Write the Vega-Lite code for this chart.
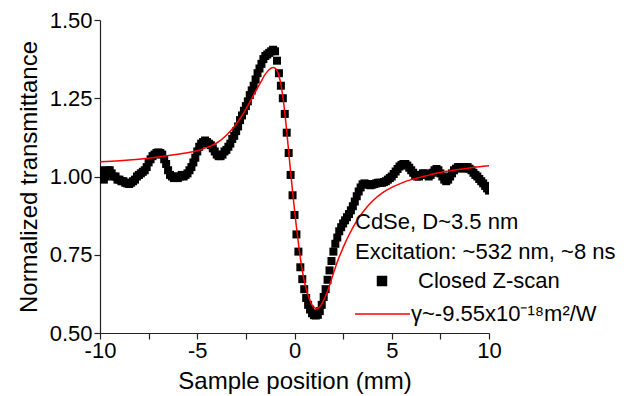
{
  "$schema": "https://vega.github.io/schema/vega-lite/v6.json",
  "width": 389,
  "height": 313,
  "autosize": {"type": "none"},
  "padding": {"left": 100, "top": 20, "right": 153, "bottom": 63},
  "background": "white",
  "config": {
    "view": {"stroke": null},
    "font": "Liberation Sans",
    "axis": {"grid": false, "domain": true, "ticks": true, "domainColor": "#222", "domainWidth": 1.2, "tickColor": "#222", "tickWidth": 1.2, "tickSize": 6, "labelColor": "black", "titleColor": "black", "labelFont": "Liberation Sans", "titleFont": "Liberation Sans", "labelFontSize": 22, "titleFontSize": 24, "titleFontWeight": "normal", "labelFlush": false, "labelOverlap": false}
  },
  "datasets": {
    "scan": [
      {"x": -10.0, "t": 1.02}, {"x": -9.9, "t": 1.01}, {"x": -9.8, "t": 0.99}, {"x": -9.7, "t": 1.0}, {"x": -9.6, "t": 1.02},
      {"x": -9.5, "t": 1.02}, {"x": -9.4, "t": 1.01}, {"x": -9.3, "t": 1.0}, {"x": -9.2, "t": 1.0}, {"x": -9.1, "t": 0.99},
      {"x": -9.0, "t": 0.99}, {"x": -8.9, "t": 0.985}, {"x": -8.8, "t": 0.985}, {"x": -8.7, "t": 0.98}, {"x": -8.6, "t": 0.978},
      {"x": -8.5, "t": 0.976}, {"x": -8.4, "t": 0.98}, {"x": -8.3, "t": 0.985}, {"x": -8.2, "t": 0.99}, {"x": -8.1, "t": 1.0},
      {"x": -8.0, "t": 1.005}, {"x": -7.9, "t": 1.01}, {"x": -7.8, "t": 1.015}, {"x": -7.7, "t": 1.02}, {"x": -7.6, "t": 1.03},
      {"x": -7.5, "t": 1.045}, {"x": -7.4, "t": 1.055}, {"x": -7.3, "t": 1.065}, {"x": -7.2, "t": 1.07}, {"x": -7.1, "t": 1.075},
      {"x": -7.0, "t": 1.077}, {"x": -6.9, "t": 1.075}, {"x": -6.8, "t": 1.07}, {"x": -6.7, "t": 1.055}, {"x": -6.6, "t": 1.04},
      {"x": -6.5, "t": 1.02}, {"x": -6.4, "t": 1.005}, {"x": -6.3, "t": 1.0}, {"x": -6.2, "t": 0.995}, {"x": -6.1, "t": 1.0},
      {"x": -6.0, "t": 0.995}, {"x": -5.9, "t": 1.0}, {"x": -5.8, "t": 1.005}, {"x": -5.7, "t": 1.0}, {"x": -5.6, "t": 1.005},
      {"x": -5.5, "t": 1.01}, {"x": -5.4, "t": 1.02}, {"x": -5.3, "t": 1.03}, {"x": -5.2, "t": 1.045}, {"x": -5.1, "t": 1.06},
      {"x": -5.0, "t": 1.08}, {"x": -4.9, "t": 1.095}, {"x": -4.8, "t": 1.105}, {"x": -4.7, "t": 1.11}, {"x": -4.6, "t": 1.115},
      {"x": -4.5, "t": 1.11}, {"x": -4.4, "t": 1.105}, {"x": -4.3, "t": 1.1}, {"x": -4.2, "t": 1.09}, {"x": -4.1, "t": 1.08},
      {"x": -4.0, "t": 1.07}, {"x": -3.9, "t": 1.065}, {"x": -3.8, "t": 1.065}, {"x": -3.7, "t": 1.07}, {"x": -3.6, "t": 1.08},
      {"x": -3.5, "t": 1.085}, {"x": -3.4, "t": 1.095}, {"x": -3.3, "t": 1.105}, {"x": -3.2, "t": 1.12}, {"x": -3.1, "t": 1.13},
      {"x": -3.0, "t": 1.145}, {"x": -2.9, "t": 1.16}, {"x": -2.8, "t": 1.18}, {"x": -2.7, "t": 1.195}, {"x": -2.6, "t": 1.21},
      {"x": -2.5, "t": 1.225}, {"x": -2.4, "t": 1.24}, {"x": -2.3, "t": 1.26}, {"x": -2.2, "t": 1.275}, {"x": -2.1, "t": 1.29},
      {"x": -2.0, "t": 1.31}, {"x": -1.9, "t": 1.33}, {"x": -1.8, "t": 1.345}, {"x": -1.7, "t": 1.36}, {"x": -1.6, "t": 1.375},
      {"x": -1.5, "t": 1.385}, {"x": -1.4, "t": 1.39}, {"x": -1.3, "t": 1.395}, {"x": -1.2, "t": 1.4}, {"x": -1.1, "t": 1.405},
      {"x": -1.0, "t": 1.4}, {"x": -0.9, "t": 1.37}, {"x": -0.8, "t": 1.33}, {"x": -0.7, "t": 1.29}, {"x": -0.6, "t": 1.25},
      {"x": -0.5, "t": 1.2}, {"x": -0.4, "t": 1.14}, {"x": -0.3, "t": 1.075}, {"x": -0.2, "t": 1.005}, {"x": -0.1, "t": 0.94},
      {"x": 0.0, "t": 0.877}, {"x": 0.1, "t": 0.815}, {"x": 0.2, "t": 0.76}, {"x": 0.3, "t": 0.71}, {"x": 0.4, "t": 0.672},
      {"x": 0.5, "t": 0.64}, {"x": 0.6, "t": 0.612}, {"x": 0.7, "t": 0.59}, {"x": 0.8, "t": 0.575}, {"x": 0.9, "t": 0.563},
      {"x": 1.0, "t": 0.557}, {"x": 1.1, "t": 0.556}, {"x": 1.2, "t": 0.558}, {"x": 1.3, "t": 0.57}, {"x": 1.4, "t": 0.59},
      {"x": 1.5, "t": 0.615}, {"x": 1.6, "t": 0.64}, {"x": 1.7, "t": 0.67}, {"x": 1.8, "t": 0.7}, {"x": 1.9, "t": 0.73},
      {"x": 2.0, "t": 0.76}, {"x": 2.1, "t": 0.785}, {"x": 2.2, "t": 0.805}, {"x": 2.3, "t": 0.825}, {"x": 2.4, "t": 0.838},
      {"x": 2.5, "t": 0.85}, {"x": 2.6, "t": 0.86}, {"x": 2.7, "t": 0.87}, {"x": 2.8, "t": 0.88}, {"x": 2.9, "t": 0.892},
      {"x": 3.0, "t": 0.905}, {"x": 3.1, "t": 0.92}, {"x": 3.2, "t": 0.937}, {"x": 3.3, "t": 0.952}, {"x": 3.4, "t": 0.965},
      {"x": 3.5, "t": 0.975}, {"x": 3.6, "t": 0.978}, {"x": 3.7, "t": 0.976}, {"x": 3.8, "t": 0.974}, {"x": 3.9, "t": 0.972},
      {"x": 4.0, "t": 0.974}, {"x": 4.1, "t": 0.976}, {"x": 4.2, "t": 0.978}, {"x": 4.3, "t": 0.98}, {"x": 4.4, "t": 0.98},
      {"x": 4.5, "t": 0.98}, {"x": 4.6, "t": 0.982}, {"x": 4.7, "t": 0.985}, {"x": 4.8, "t": 0.99}, {"x": 4.9, "t": 0.995},
      {"x": 5.0, "t": 1.0}, {"x": 5.1, "t": 1.008}, {"x": 5.2, "t": 1.016}, {"x": 5.3, "t": 1.024}, {"x": 5.4, "t": 1.032},
      {"x": 5.5, "t": 1.037}, {"x": 5.6, "t": 1.04}, {"x": 5.7, "t": 1.04}, {"x": 5.8, "t": 1.035}, {"x": 5.9, "t": 1.028},
      {"x": 6.0, "t": 1.02}, {"x": 6.1, "t": 1.012}, {"x": 6.2, "t": 1.005}, {"x": 6.3, "t": 1.0}, {"x": 6.4, "t": 1.0},
      {"x": 6.5, "t": 1.005}, {"x": 6.6, "t": 1.01}, {"x": 6.7, "t": 1.01}, {"x": 6.8, "t": 1.005}, {"x": 6.9, "t": 1.0},
      {"x": 7.0, "t": 1.005}, {"x": 7.1, "t": 1.012}, {"x": 7.2, "t": 1.02}, {"x": 7.3, "t": 1.024}, {"x": 7.4, "t": 1.02},
      {"x": 7.5, "t": 1.01}, {"x": 7.6, "t": 1.0}, {"x": 7.7, "t": 0.99}, {"x": 7.8, "t": 0.985}, {"x": 7.9, "t": 0.99},
      {"x": 8.0, "t": 1.0}, {"x": 8.1, "t": 1.01}, {"x": 8.2, "t": 1.02}, {"x": 8.3, "t": 1.025}, {"x": 8.4, "t": 1.03},
      {"x": 8.5, "t": 1.03}, {"x": 8.6, "t": 1.028}, {"x": 8.7, "t": 1.025}, {"x": 8.8, "t": 1.03}, {"x": 8.9, "t": 1.03},
      {"x": 9.0, "t": 1.025}, {"x": 9.1, "t": 1.02}, {"x": 9.2, "t": 1.012}, {"x": 9.3, "t": 1.005}, {"x": 9.4, "t": 1.0},
      {"x": 9.5, "t": 0.992}, {"x": 9.6, "t": 0.985}, {"x": 9.7, "t": 0.978}, {"x": 9.8, "t": 0.97}, {"x": 9.9, "t": 0.962},
      {"x": 10.0, "t": 0.955}
    ],
    "fit": [
      {"x": -10, "t": 1.047}, {"x": -9, "t": 1.05}, {"x": -8, "t": 1.055}, {"x": -7, "t": 1.062}, {"x": -6, "t": 1.071},
      {"x": -5.5, "t": 1.076}, {"x": -5, "t": 1.082}, {"x": -4.5, "t": 1.093}, {"x": -4, "t": 1.107}, {"x": -3.5, "t": 1.132},
      {"x": -3, "t": 1.167}, {"x": -2.5, "t": 1.215}, {"x": -2.25, "t": 1.243}, {"x": -2, "t": 1.272}, {"x": -1.75, "t": 1.3},
      {"x": -1.5, "t": 1.327}, {"x": -1.3, "t": 1.342}, {"x": -1.1, "t": 1.348}, {"x": -1.0, "t": 1.346}, {"x": -0.9, "t": 1.338},
      {"x": -0.8, "t": 1.322}, {"x": -0.7, "t": 1.295}, {"x": -0.6, "t": 1.255}, {"x": -0.5, "t": 1.205}, {"x": -0.4, "t": 1.145},
      {"x": -0.3, "t": 1.08}, {"x": -0.2, "t": 1.015}, {"x": -0.1, "t": 0.953}, {"x": 0.0, "t": 0.893}, {"x": 0.1, "t": 0.838},
      {"x": 0.2, "t": 0.787}, {"x": 0.3, "t": 0.74}, {"x": 0.4, "t": 0.7}, {"x": 0.5, "t": 0.667}, {"x": 0.6, "t": 0.641},
      {"x": 0.7, "t": 0.62}, {"x": 0.8, "t": 0.603}, {"x": 0.9, "t": 0.59}, {"x": 1.0, "t": 0.582}, {"x": 1.1, "t": 0.578},
      {"x": 1.2, "t": 0.579}, {"x": 1.3, "t": 0.584}, {"x": 1.4, "t": 0.593}, {"x": 1.6, "t": 0.618}, {"x": 1.8, "t": 0.652},
      {"x": 2.0, "t": 0.69}, {"x": 2.2, "t": 0.727}, {"x": 2.4, "t": 0.758}, {"x": 2.6, "t": 0.787}, {"x": 2.8, "t": 0.813},
      {"x": 3.0, "t": 0.837}, {"x": 3.25, "t": 0.863}, {"x": 3.5, "t": 0.885}, {"x": 4.0, "t": 0.921}, {"x": 4.5, "t": 0.947},
      {"x": 5.0, "t": 0.965}, {"x": 5.5, "t": 0.979}, {"x": 6.0, "t": 0.99}, {"x": 6.5, "t": 0.998}, {"x": 7.0, "t": 1.006},
      {"x": 7.5, "t": 1.013}, {"x": 8.0, "t": 1.018}, {"x": 8.5, "t": 1.023}, {"x": 9.0, "t": 1.027}, {"x": 9.5, "t": 1.031},
      {"x": 10.0, "t": 1.034}
    ]
  },
  "layer": [
    {
      "data": {"name": "scan"},
      "mark": {"type": "point", "shape": "square", "filled": true, "size": 64, "opacity": 1, "color": "black", "clip": true},
      "encoding": {
        "x": {"field": "x", "type": "quantitative", "scale": {"domain": [-10, 10], "nice": false},
          "axis": {"title": "Sample position (mm)", "values": [-10, -7.5, -5, -2.5, 0, 2.5, 5, 7.5, 10],
            "labelExpr": "datum.value % 5 === 0 ? '' + datum.value : ''", "labelPadding": 1, "titlePadding": 8,
            "encode": {"ticks": {"update": {"y2": {"signal": "datum.value % 5 === 0 ? -6 : -4"}}}}}},
        "y": {"field": "t", "type": "quantitative", "scale": {"domain": [0.5, 1.5], "nice": false, "zero": false},
          "axis": {"title": "Normalized transmittance", "values": [0.5, 0.625, 0.75, 0.875, 1, 1.125, 1.25, 1.375, 1.5],
            "labelExpr": "(datum.value * 4) % 1 === 0 ? format(datum.value, '.2f') : ''", "labelPadding": 2, "titlePadding": 8,
            "encode": {"ticks": {"update": {"x2": {"signal": "(datum.value * 4) % 1 === 0 ? 6 : 4"}}}}}},
        "shape": {"datum": "Closed Z-scan", "type": "nominal",
          "scale": {"domain": ["Closed Z-scan"], "range": ["square"]},
          "legend": {"orient": "none", "legendX": 255, "legendY": 192,
            "title": ["CdSe, D~3.5 nm", "Excitation: ~532 nm, ~8 ns"],
            "titleFont": "Liberation Sans", "titleFontSize": 22, "titleFontWeight": "normal", "titleColor": "black",
            "titleLineHeight": 30, "titleLimit": 0, "titlePadding": 6,
            "labelFont": "Liberation Sans", "labelFontSize": 22, "labelColor": "black", "labelLimit": 0, "labelOffset": 25,
            "padding": 0, "clipHeight": 22, "symbolOffset": 16,
            "symbolType": "square", "symbolSize": 110, "symbolFillColor": "black", "symbolStrokeColor": "black", "symbolStrokeWidth": 0, "symbolOpacity": 1}}
      }
    },
    {
      "data": {"name": "fit"},
      "mark": {"type": "line", "strokeWidth": 1.5, "interpolate": "monotone", "clip": true},
      "encoding": {
        "x": {"field": "x", "type": "quantitative"},
        "y": {"field": "t", "type": "quantitative"},
        "color": {"datum": "γ~-9.55x10⁻¹⁸m²/W", "type": "nominal",
          "scale": {"domain": ["γ~-9.55x10⁻¹⁸m²/W"], "range": ["#ff0000"]},
          "legend": {"orient": "none", "legendX": 255, "legendY": 283, "title": null,
            "labelFont": "Liberation Sans", "labelFontSize": 22, "labelColor": "black", "labelLimit": 0, "labelOffset": 0,
            "padding": 0, "clipHeight": 22, "symbolOffset": -1,
            "symbolType": "stroke", "symbolSize": 3025, "symbolStrokeWidth": 1.5, "symbolStrokeColor": "#ff0000"}}
      }
    }
  ]
}
